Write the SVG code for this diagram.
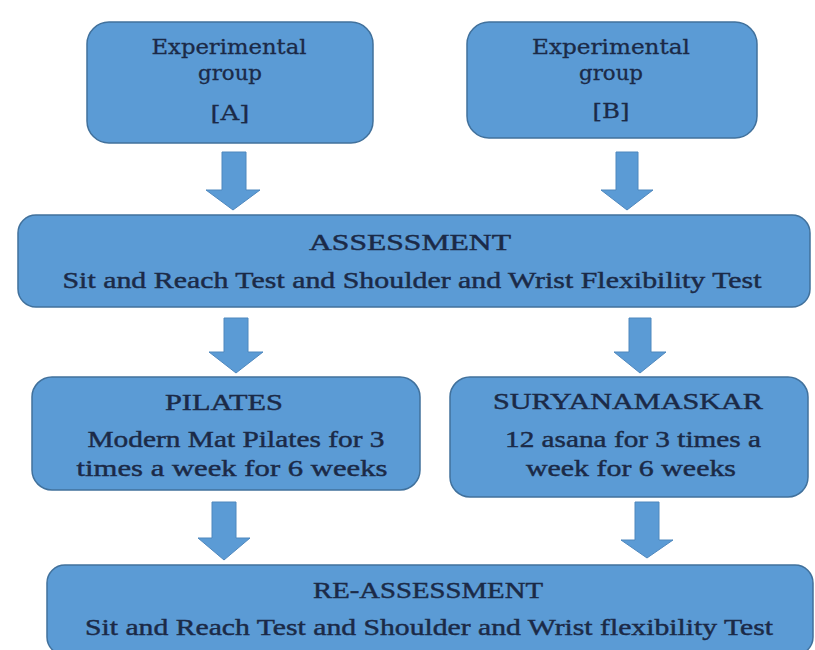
<svg xmlns="http://www.w3.org/2000/svg" width="815" height="650" viewBox="0 0 815 650">
<style>
.box{fill:#5B9BD5;stroke:#41719C;stroke-width:1.5}
.arr{fill:#5B9BD5;stroke:#4F88BE;stroke-width:1}
text{font-family:"Liberation Serif","Times New Roman",serif;fill:#1B2A47;stroke:#1B2A47;stroke-width:0.45;text-anchor:middle;font-size:24px}
.slab{font-family:"DejaVu Serif",serif;font-size:20px;stroke-width:0.3}
</style>
<rect width="815" height="650" fill="#ffffff"/>
<g id="connectors">
<polygon class="arr" points="222,152 246,152 246,190 260,190 233,210 206,190 222,190"/>
<polygon class="arr" points="616,152 638,152 638,190 653,190 627,210 601,190 616,190"/>
<polygon class="arr" points="224,318 248,318 248,352 263,352 236,373 209,352 224,352"/>
<polygon class="arr" points="629,318 651,318 651,352 666,352 640,373 614,352 629,352"/>
<polygon class="arr" points="212,502 236,502 236,538 250,538 224,560 198,538 212,538"/>
<polygon class="arr" points="635,502 659,502 659,540 673,540 647,558 621,540 635,540"/>
</g>
<g id="groupA">
<rect class="box" x="87" y="22" width="286" height="121" rx="22"/>
<text class="slab" x="229" y="54" textLength="155" lengthAdjust="spacingAndGlyphs">Experimental</text>
<text class="slab" x="230" y="80" textLength="64" lengthAdjust="spacingAndGlyphs">group</text>
<text class="slab" x="230" y="120" textLength="39" lengthAdjust="spacingAndGlyphs">[A]</text>
</g>
<g id="groupB">
<rect class="box" x="467" y="22" width="290" height="116" rx="22"/>
<text class="slab" x="611" y="54" textLength="158" lengthAdjust="spacingAndGlyphs">Experimental</text>
<text class="slab" x="611" y="80" textLength="64" lengthAdjust="spacingAndGlyphs">group</text>
<text class="slab" x="611" y="118" textLength="37" lengthAdjust="spacingAndGlyphs">[B]</text>
</g>
<g id="assessment">
<rect class="box" x="18" y="215" width="792" height="92" rx="18"/>
<text x="410" y="250" textLength="202" lengthAdjust="spacingAndGlyphs">ASSESSMENT</text>
<text x="412" y="288" textLength="699" lengthAdjust="spacingAndGlyphs">Sit and Reach Test and Shoulder and Wrist Flexibility Test</text>
</g>
<g id="pilates">
<rect class="box" x="32" y="377" width="388" height="113" rx="20"/>
<text x="224" y="410" textLength="118" lengthAdjust="spacingAndGlyphs">PILATES</text>
<text x="236" y="447" textLength="297" lengthAdjust="spacingAndGlyphs">Modern Mat Pilates for 3</text>
<text x="232" y="476" textLength="311" lengthAdjust="spacingAndGlyphs">times a week for 6 weeks</text>
</g>
<g id="suryanamaskar">
<rect class="box" x="450" y="377" width="358" height="120" rx="20"/>
<text x="628" y="409" textLength="270" lengthAdjust="spacingAndGlyphs">SURYANAMASKAR</text>
<text x="633" y="447" textLength="256" lengthAdjust="spacingAndGlyphs">12 asana for 3 times a</text>
<text x="631" y="476" textLength="210" lengthAdjust="spacingAndGlyphs">week for 6 weeks</text>
</g>
<g id="reassessment">
<rect class="box" x="47" y="565" width="766" height="90" rx="18"/>
<text x="428" y="598" textLength="230" lengthAdjust="spacingAndGlyphs">RE-ASSESSMENT</text>
<text x="429" y="635" textLength="688" lengthAdjust="spacingAndGlyphs">Sit and Reach Test and Shoulder and Wrist flexibility Test</text>
</g>
</svg>
